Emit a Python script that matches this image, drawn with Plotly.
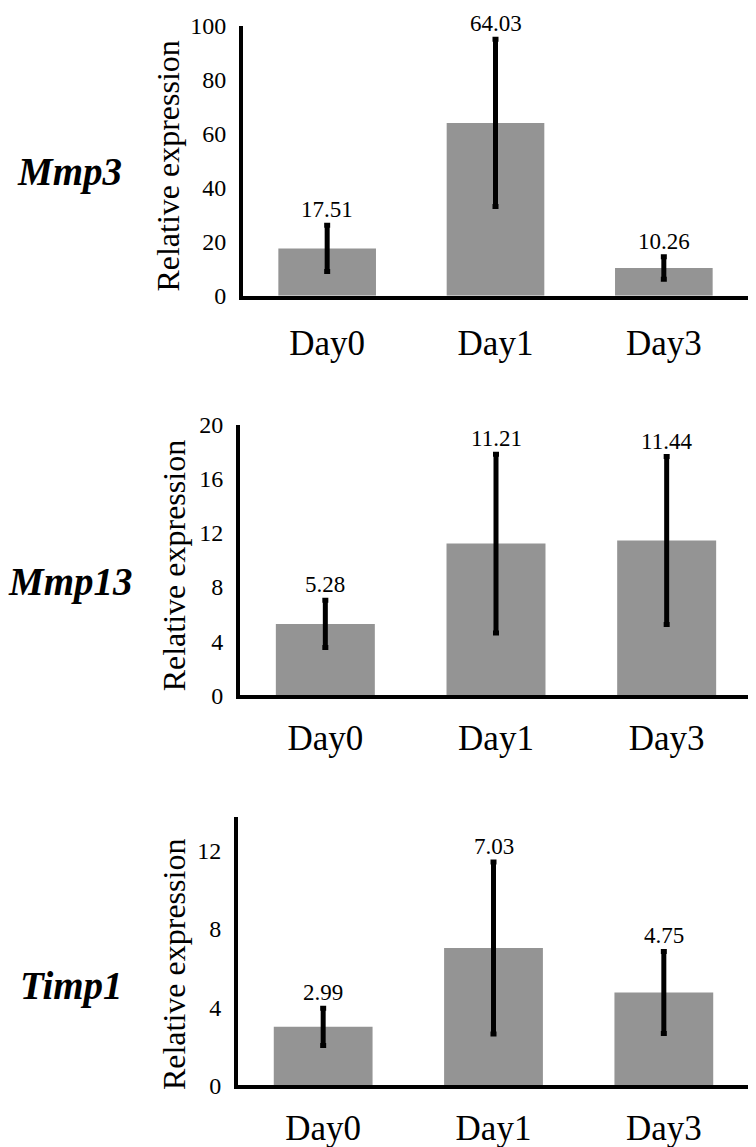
import plotly.graph_objects as go

W, H = 756, 1147
OFF = 8  # browser default body margin shifts the figure by 8 px

categories = ["Day0", "Day1", "Day3"]
genes = ["Mmp3", "Mmp13", "Timp1"]

mmp3_mean = [17.51, 64.03, 10.26]
mmp3_err = [8.6, 31.0, 4.2]
mmp13_mean = [5.28, 11.21, 11.44]
mmp13_err = [1.75, 6.6, 6.2]
timp1_mean = [2.99, 7.03, 4.75]
timp1_err = [0.95, 4.4, 2.1]

y_ranges = [[0, 100], [0, 20], [0, 13.75]]
y_ticks = [[0, 20, 40, 60, 80, 100], [0, 4, 8, 12, 16, 20], [0, 4, 8, 12]]

means = [mmp3_mean, mmp13_mean, timp1_mean]
errs = [mmp3_err, mmp13_err, timp1_err]

FONT = "Liberation Serif, Times New Roman, serif"
BAR = "#949494"


def px(xp):
    return (xp - OFF) / W


def py(yp):
    return 1 - (yp - OFF) / H


# panel geometry in page pixels: (x0, x1, ytop, ybottom)
panels = [(243, 748, 13, 289), (240, 752, 421, 698), (238, 749, 822, 1097)]
day_standoff = [13, 9, 9]
ytitle_pos = [(168, 157), (174, 566), (174, 974)]
gene_pos = [(69, 163), (70, 582), (71, 995)]

fig = go.Figure()
layout = dict(
    width=W, height=H,
    margin=dict(l=0, r=0, t=0, b=0),
    plot_bgcolor="white", paper_bgcolor="white",
    showlegend=False,
    font=dict(family=FONT, color="black"),
)
annotations = []

for i in range(3):
    x0, x1, yt, yb = panels[i]
    xa = "x" if i == 0 else f"x{i+1}"
    ya = "y" if i == 0 else f"y{i+1}"
    fig.add_trace(go.Bar(
        x=categories, y=means[i],
        marker=dict(color=BAR, line=dict(width=0)),
        width=0.58,
        error_y=dict(type="data", array=errs[i], visible=True,
                     color="black", thickness=5, width=3),
        xaxis=xa, yaxis=ya,
    ))
    xkey = "xaxis" if i == 0 else f"xaxis{i+1}"
    ykey = "yaxis" if i == 0 else f"yaxis{i+1}"
    layout[xkey] = dict(
        domain=[px(x0), px(x1)], anchor=ya,
        range=[-0.5, 2.5], showline=True, linewidth=4, linecolor="black",
        ticks="", showgrid=False, zeroline=False,
        tickfont=dict(family=FONT, size=35, color="black"),
        ticklabelstandoff=day_standoff[i],
    )
    layout[ykey] = dict(
        domain=[py(yb), py(yt)], anchor=xa,
        range=y_ranges[i], tickvals=y_ticks[i],
        showline=True, linewidth=4, linecolor="black",
        ticks="", showgrid=False, zeroline=False,
        tickfont=dict(family=FONT, size=24, color="black"),
        ticklabelstandoff=8,
    )
    # value labels above error bars
    for c, m, e in zip(categories, means[i], errs[i]):
        annotations.append(dict(
            x=c, y=m + e, xref=xa, yref=ya, text=f"{m:.2f}",
            showarrow=False, yanchor="bottom", yshift=1,
            font=dict(family=FONT, size=23, color="black"),
        ))
    tx, ty = ytitle_pos[i]
    annotations.append(dict(
        x=px(tx), y=py(ty), xref="paper", yref="paper",
        text="Relative expression", textangle=-90, showarrow=False,
        xanchor="center", yanchor="middle",
        font=dict(family=FONT, size=32, color="black"),
    ))
    gx, gy = gene_pos[i]
    annotations.append(dict(
        x=px(gx), y=py(gy), xref="paper", yref="paper",
        text=f"<b><i>{genes[i]}</i></b>", showarrow=False,
        xanchor="center", yanchor="middle",
        font=dict(family=FONT, size=39, color="black"),
    ))

layout["annotations"] = annotations
fig.update_layout(**layout)
fig.write_html("out.html")
